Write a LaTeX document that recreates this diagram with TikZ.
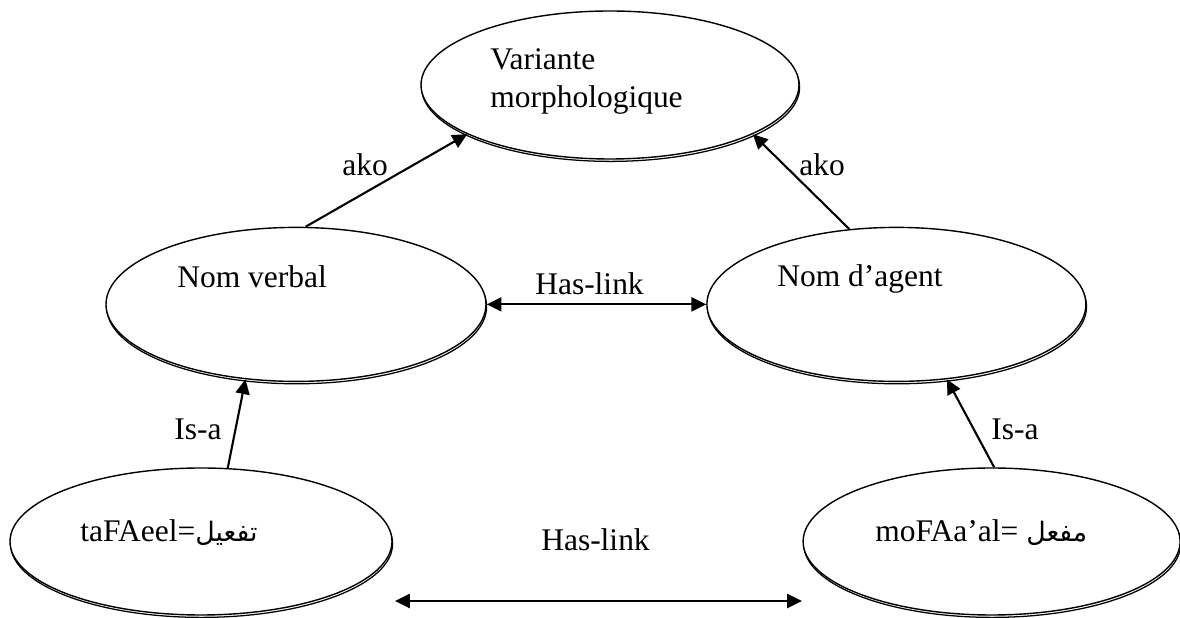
\documentclass[tikz,border=0pt]{standalone}
\usepackage{fontspec}
\setmainfont{Liberation Serif}
\newfontfamily\arabicfont[Script=Arabic,Scale=0.85]{DejaVu Sans}
\TeXXeTstate=1
\usetikzlibrary{arrows.meta,shapes.geometric,shadows}

\begin{document}
\begin{tikzpicture}[
    elli/.style={ellipse, draw, line width=1pt, fill=white, inner sep=0pt,
        drop shadow={shadow xshift=0.015cm, shadow yshift=-0.06cm, fill=white, draw=black, line width=0.9pt, opacity=1}},
    lbl/.style={anchor=base west, inner sep=0pt, font=\fontsize{22.4}{25.6}\selectfont},
    arrow/.style={-{Triangle[length=10.5pt,width=10pt]}, line width=1.5pt},
    biarrow/.style={{Triangle[length=10.5pt,width=10pt]}-{Triangle[length=10.5pt,width=10pt]}, line width=1.5pt}
]
    \useasboundingbox (0,0) rectangle (29.5,15.45);

    % Ellipses
    \node[elli, minimum width=9.45cm, minimum height=3.7cm] (vm) at (15.25,13.325) {};
    \node[elli, minimum width=9.5cm, minimum height=3.85cm] (nv) at (7.4,7.84) {};
    \node[elli, minimum width=9.475cm, minimum height=3.85cm] (na) at (22.41,7.84) {};
    \node[elli, minimum width=9.55cm, minimum height=3.675cm] (tf) at (5.025,1.9125) {};
    \node[elli, minimum width=9.425cm, minimum height=3.675cm] (mf) at (24.79,1.9125) {};

    % Texts in the ellipses
    \node[lbl, align=left] (vmtext) at (12.25,12.75) {Variante\\[2pt]morphologique};
    \node[lbl] (nvtext) at (4.425,8.25) {Nom verbal};
    \node[lbl] (natext) at (19.425,8.275) {Nom d’agent};
    \node[lbl] (tftext) at (2.0,1.9) {taFAeel={\arabicfont\beginR تفعيل\endR}};
    \node[lbl] (mftext) at (21.875,1.9) {moFAa’al= {\arabicfont\beginR مفعل\endR}};

    % Arrows
    \draw[arrow] (nv.83.4) -- (vm.199.5);
    \draw[arrow] (na.122) -- (vm.341.8);
    \draw[arrow] (tf.70.3) -- (nv.236.9);
    \draw[arrow] (mf.88.8) -- (na.304.5);
    \draw[biarrow] (nv) -- (na);
    \coordinate (hlleft) at (9.875,0.425);
    \coordinate (hlright) at (20.05,0.425);
    \draw[biarrow] (hlleft) -- (hlright);

    % Arrow labels
    \node[lbl] (ako1) at (8.55,11.05) {ako};
    \node[lbl] (ako2) at (19.975,11.05) {ako};
    \node[lbl] (isa1) at (4.35,4.45) {Is-a};
    \node[lbl] (isa2) at (24.775,4.45) {Is-a};
    \node[lbl] (has1) at (13.375,8.075) {Has-link};
    \node[lbl] (has2) at (13.525,1.675) {Has-link};
\end{tikzpicture}
\end{document}
